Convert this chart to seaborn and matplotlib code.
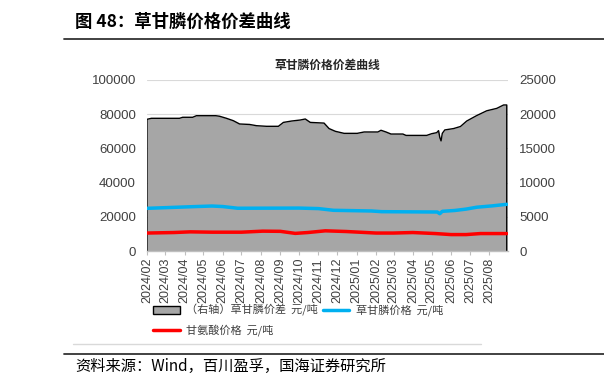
import numpy as np
import pandas as pd
import matplotlib
matplotlib.use("Agg")
import matplotlib.pyplot as plt
from matplotlib.patches import Patch
from matplotlib.lines import Line2D
import seaborn as sns

# ---------------- data ----------------
spread_dates = ["2024-02-01", "2024-02-08", "2024-03-24", "2024-03-29", "2024-04-14", "2024-04-20",
                "2024-05-21", "2024-05-27", "2024-06-07", "2024-06-18", "2024-06-28", "2024-07-14",
                "2024-07-25", "2024-08-10", "2024-08-29", "2024-09-06", "2024-09-19", "2024-10-03",
                "2024-10-11", "2024-10-19", "2024-11-10", "2024-11-18", "2024-11-28", "2024-12-12",
                "2025-01-02", "2025-01-13", "2025-02-04", "2025-02-09", "2025-02-17", "2025-02-25",
                "2025-03-16", "2025-03-21", "2025-04-23", "2025-05-01", "2025-05-09", "2025-05-12",
                "2025-05-14", "2025-05-16", "2025-05-18", "2025-05-22", "2025-06-05", "2025-06-16",
                "2025-06-26", "2025-07-12", "2025-07-28", "2025-08-13", "2025-08-24", "2025-08-29"]
spread_vals = [19250, 19400, 19400, 19550, 19550, 19780,
               19780, 19700, 19400, 19050, 18570, 18500,
               18320, 18230, 18230, 18800, 19000, 19150,
               19300, 18800, 18700, 17900, 17500, 17200,
               17200, 17400, 17400, 17650, 17400, 17100,
               17100, 16900, 16900, 17150, 17300, 17600,
               16600, 16100, 17200, 17700, 17900, 18200,
               19000, 19800, 20500, 20850, 21350, 21350]

gly_dates = ["2024-02-01", "2024-04-20", "2024-05-15", "2024-06-01", "2024-06-25", "2024-10-01",
             "2024-11-01", "2024-11-25", "2025-01-25", "2025-02-10", "2025-05-10", "2025-05-14",
             "2025-05-18", "2025-06-07", "2025-06-25", "2025-07-12", "2025-08-06", "2025-08-29"]
gly_vals = [24950, 26000, 26300, 26000, 25000, 25100,
            24800, 23800, 23400, 23000, 22800, 21800,
            23200, 23700, 24500, 25600, 26400, 27300]

glycine_dates = ["2024-02-01", "2024-03-15", "2024-04-10", "2024-05-15", "2024-07-01", "2024-08-04",
                 "2024-09-01", "2024-09-25", "2024-10-15", "2024-11-12", "2024-12-15", "2025-02-01",
                 "2025-03-01", "2025-04-01", "2025-05-07", "2025-06-01", "2025-06-25", "2025-07-18",
                 "2025-08-29"]
glycine_vals = [10500, 10800, 11200, 11000, 11000, 11600,
                11500, 10300, 10800, 11800, 11400, 10500,
                10500, 10800, 10200, 9600, 9600, 10200,
                10200]

month_labels = ["2024/02", "2024/03", "2024/04", "2024/05", "2024/06", "2024/07", "2024/08",
                "2024/09", "2024/10", "2024/11", "2024/12", "2025/01", "2025/02", "2025/03",
                "2025/04", "2025/05", "2025/06", "2025/07", "2025/08"]

lab_spread = "（右轴）草甘膦价差  元/吨"
lab_gly = "草甘膦价格  元/吨"
lab_glycine = "甘氨酸价格  元/吨"

# ---------------- style ----------------
sns.set_style("white")
plt.rcParams['font.family'] = ['Noto Sans CJK SC', 'DejaVu Sans']
LAT = "Liberation Sans"

fig = plt.figure(figsize=(6.04, 3.90), dpi=100)
ax = fig.add_axes([147/604, 1-251/390, (508-147)/604, (251-80)/390])
ax2 = ax.twinx()

# area on right axis (drawn below)
sd = pd.to_datetime(spread_dates)
ax2.fill_between(sd, 0, spread_vals, color="#A6A6A6", lw=0, zorder=2)
ox = [sd[0]] + list(sd) + [sd[-1]]
oy = [0] + list(spread_vals) + [0]
ax2.plot(ox, oy, color="black", lw=1.0, zorder=3)
ax2.set_ylim(0, 25000)
ax2.set_yticks(np.arange(0, 25001, 5000))
ax2.yaxis.grid(True, color="#D9D9D9", lw=0.8, zorder=0)
ax2.set_axisbelow(True)

# lines on left axis via seaborn
df = pd.concat([
    pd.DataFrame({"date": pd.to_datetime(gly_dates), "value": gly_vals, "series": lab_gly}),
    pd.DataFrame({"date": pd.to_datetime(glycine_dates), "value": glycine_vals, "series": lab_glycine}),
])
sns.lineplot(data=df, x="date", y="value", hue="series",
             palette={lab_gly: "#00B0F0", lab_glycine: "#FF0000"},
             lw=2.5, ax=ax, legend=False)
ax.set_zorder(ax2.get_zorder() + 1)
ax.patch.set_visible(False)
ax.set_ylim(0, 100000)
ax.set_yticks(np.arange(0, 100001, 20000))
ax.grid(False)
ax.set_xlabel("")
ax.set_ylabel("")

xmin, xmax = pd.Timestamp("2024-02-01"), pd.Timestamp("2025-08-31")
ax.set_xlim(xmin, xmax)
ax2.set_xlim(xmin, xmax)
ticks = pd.date_range("2024-02-01", "2025-08-01", freq="MS")
ax.set_xticks(ticks)
ax.set_xticklabels(month_labels, rotation=90, fontfamily=LAT, fontsize=9, color="#404040")
ax.tick_params(axis="x", length=3, color="#BFBFBF", pad=2, bottom=True)
ax.tick_params(axis="y", length=0, pad=8, labelsize=9.5, labelcolor="#404040")
for t in ax.get_yticklabels():
    t.set_fontfamily(LAT)
ax2.tick_params(axis="y", length=0, pad=8, labelsize=9.5, labelcolor="#404040")
for t in ax2.get_yticklabels():
    t.set_fontfamily(LAT)

for a in (ax, ax2):
    for s in ("top", "left", "right", "bottom"):
        a.spines[s].set_visible(False)
ax.spines["bottom"].set_visible(True)
ax.spines["bottom"].set_color("#BFBFBF")
ax.spines["bottom"].set_linewidth(1.0)

ax.set_title("草甘膦价格价差曲线", fontsize=8.5, fontweight="bold", color="#262626", pad=8)

# legend
handles = [Patch(facecolor="#A6A6A6", edgecolor="black", lw=1.0, label=lab_spread),
           Line2D([], [], color="#FF0000", lw=2.5, label=lab_glycine),
           Line2D([], [], color="#00B0F0", lw=2.5, label=lab_gly)]
fig.legend(handles=handles, ncol=2, loc="upper left",
           bbox_to_anchor=(143/604, 1-294/390), frameon=False,
           fontsize=8, handlelength=2.4, handletextpad=0.6, columnspacing=0.4,
           labelspacing=0.75, labelcolor="#404040")

# page decorations
fig.text(75/604, 1-22/390, "图 48：草甘膦价格价差曲线", fontsize=12.5, fontweight="bold",
         va="center", ha="left", color="black")
fig.add_artist(Line2D([64/604, 1.0], [1-39/390, 1-39/390], color="#333333", lw=1.3))
fig.add_artist(Line2D([73/604, 481/604], [1-344/390, 1-344/390], color="#D9D9D9", lw=1.0))
fig.add_artist(Line2D([64/604, 1.0], [1-354/390, 1-354/390], color="#333333", lw=1.3))
fig.text(75/604, 1-366/390, "资料来源：Wind，百川盈孚，国海证券研究所", fontsize=11,
         va="center", ha="left", color="black")

fig.savefig("out.png", dpi=100)
